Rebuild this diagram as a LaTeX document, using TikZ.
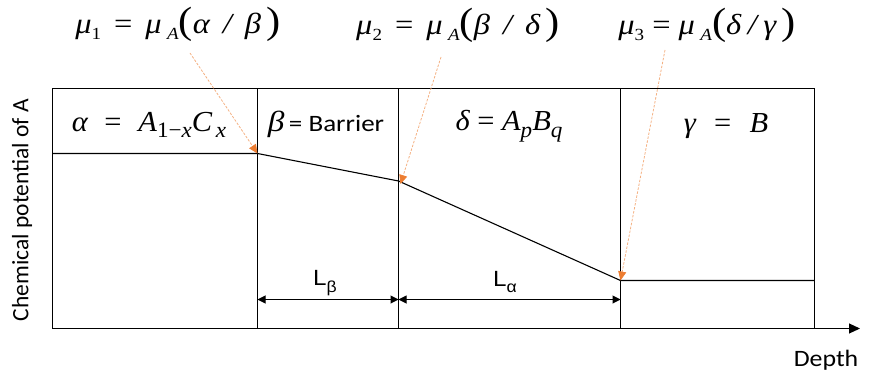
\documentclass[tikz,border=0pt]{standalone}
\usepackage{fontspec}
\setmainfont{Liberation Serif}
\newfontfamily\tms{Liberation Serif}
\newfontfamily\calfont{Carlito}
\newfontfamily\ari{Liberation Sans}
\usetikzlibrary{arrows.meta}
\definecolor{org}{HTML}{ED7D31}
\definecolor{orgl}{HTML}{F4B183}
\newcommand\sbb[1]{\raisebox{-0.45ex}{\fontsize{17}{17}\selectfont #1}}
\newcommand\sbl[1]{\raisebox{-0.5ex}{\fontsize{22}{22}\selectfont #1}}
\newcommand\bigp[1]{{\upshape\fontsize{38}{38}\selectfont #1}}
\newcommand\gap{\hspace{0.4em}}
\begin{document}
\begin{tikzpicture}[x=1pt,y=-1pt,
  frame/.style={draw=black, line width=1.1pt},
  curve/.style={draw=black, line width=1.1pt},
  callout/.style={draw=orgl, line width=0.8pt, dash pattern=on 2.5pt off 1.5pt, -{Triangle[length=9pt,width=8pt,fill=org,color=org]}},
  dim/.style={draw=black, line width=1pt, {Triangle[length=8pt,width=8pt]}-{Triangle[length=8pt,width=8pt]}},
  mathlbl/.style={inner sep=0pt, xscale=1.12, font=\tms\fontsize{29}{29}\selectfont\itshape},
  boxlbl/.style={inner sep=0pt, xscale=1.05, font=\tms\fontsize{29}{29}\selectfont\itshape},
  sanslbl/.style={inner sep=0pt, font=\calfont\fontsize{23.5}{23.5}\selectfont}]
\useasboundingbox (0,0) rectangle (874,379);
% corners
\coordinate (tl) at (52.5,88.5);
\coordinate (bl) at (52.5,328.5);
\coordinate (d1t) at (257.5,88.5);
\coordinate (d1b) at (257.5,328.5);
\coordinate (d2t) at (398.5,88.5);
\coordinate (d2b) at (398.5,328.5);
\coordinate (d3t) at (620.5,88.5);
\coordinate (d3b) at (620.5,328.5);
\coordinate (tr) at (814.5,88.5);
\coordinate (br) at (814.5,328.5);
\coordinate (axend) at (860,328.5);
% profile points
\coordinate (p0) at (52.5,153.5);
\coordinate (p1) at (257.5,153.5);
\coordinate (p2) at (398.5,181);
\coordinate (p3) at (620.5,280.5);
\coordinate (p4) at (814.5,280.5);
% frame
\draw[frame] (bl) -- (tl) -- (tr) -- (br);
\draw[frame] (d1t) -- (d1b);
\draw[frame] (d2t) -- (d2b);
\draw[frame] (d3t) -- (d3b);
\draw[frame, -{Triangle[length=11pt,width=10pt]}] (bl) -- (axend);
% profile
\draw[curve] (p0) -- (p1) -- (p2) -- (p3) -- (p4);
% dimension arrows
\coordinate (lb1) at (257.5,299.5);
\coordinate (lb2) at (398.5,299.5);
\coordinate (la2) at (620.5,299.5);
\draw[dim] (lb1) -- (lb2);
\draw[dim] (lb2) -- (la2);
\node[inner sep=0pt, xscale=1.1, font=\ari\fontsize{22}{22}\selectfont] (Lb) at (325,283) {L\raisebox{-0.55ex}{\fontsize{16}{16}\selectfont β}};
\node[inner sep=0pt, xscale=1.1, font=\ari\fontsize{22}{22}\selectfont] (La) at (505,282) {L\raisebox{-0.55ex}{\fontsize{16}{16}\selectfont α}};
% region labels
\node[boxlbl] (ra) at (149,125) {α\hspace{0.55em}{\upshape=}\hspace{0.55em}A\sbl{\upshape 1−\itshape x}C\sbl{\,x}};
\node[inner sep=0pt, xscale=1.15] (rb) at (326,124) {{\tms\itshape\fontsize{29}{29}\selectfont β}{\calfont\fontsize{23.5}{23.5}\selectfont\,= Barrier}};
\node[boxlbl] (rd) at (509,126) {δ\hspace{0.25em}{\upshape=}\hspace{0.25em}A\sbl{p}B\sbl{q}};
\node[boxlbl] (rg) at (726,126) {γ\hspace{0.6em}{\upshape=}\hspace{0.6em}B};
% top labels
\node[mathlbl] (m1) at (178,24) {μ\sbb{\upshape 1}\gap{\upshape=}\gap μ\,\sbb{A}\bigp{(}α\gap/\gap β\,\bigp{)}};
\node[mathlbl] (m2) at (458,25) {μ\sbb{\upshape 2}\gap{\upshape=}\gap μ\,\sbb{A}\bigp{(}β\gap/\gap δ\,\bigp{)}};
\node[mathlbl] (m3) at (707,25) {μ\sbb{\upshape 3}\hspace{0.25em}{\upshape=}\hspace{0.25em}μ\,\sbb{A}\bigp{(}δ\hspace{0.2em}/\hspace{0.2em}γ\,\bigp{)}};
% callouts
\coordinate (c1) at (190,53);
\coordinate (c2) at (441,57);
\coordinate (c3) at (665,50);
\draw[callout] (c1) -- (p1);
\draw[callout] (c2) -- ([xshift=2pt,yshift=-3pt]p2);
\draw[callout] (c3) -- (p3);
% axis labels
\node[sanslbl, rotate=90] (yl) at (22,210) {Chemical potential of A};
\node[sanslbl, xscale=1.1] (xl) at (826,360) {Depth};
\end{tikzpicture}
\end{document}
